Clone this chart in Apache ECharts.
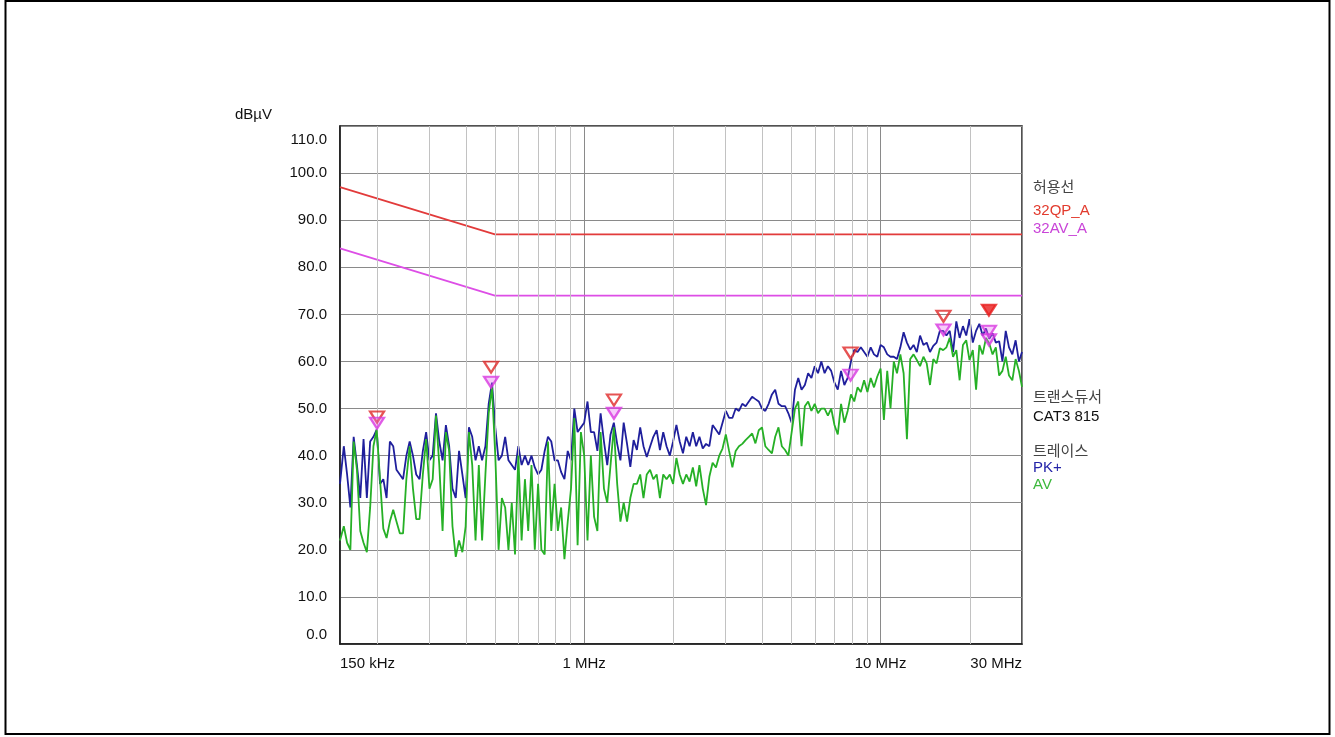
<!DOCTYPE html>
<html><head><meta charset="utf-8">
<script src="https://cdn.jsdelivr.net/npm/echarts@6/dist/echarts.min.js"></script>
<style>html,body{margin:0;padding:0;background:#fff}#c{width:1335px;height:737px}</style>
</head><body><div id="c"></div>
<script>
// Frequencies in MHz
const freqs = [0.15, 0.1545, 0.1585, 0.1626, 0.1668, 0.1711, 0.1756, 0.1801, 0.1848, 0.1896, 0.1945, 0.1995, 0.2047, 0.2100, 0.2154, 0.2210, 0.2268, 0.2326, 0.2387, 0.2448, 0.2512, 0.2577, 0.2644, 0.2712, 0.2783, 0.2855, 0.2929, 0.3005, 0.3082, 0.3162, 0.3244, 0.3328, 0.3415, 0.3503, 0.3594, 0.3687, 0.3782, 0.3881, 0.3981, 0.4084, 0.4190, 0.4299, 0.4410, 0.4524, 0.4642, 0.4762, 0.4885, 0.5012, 0.5142, 0.5275, 0.5412, 0.5552, 0.5696, 0.5843, 0.5995, 0.6150, 0.6310, 0.6473, 0.6641, 0.6813, 0.6989, 0.7171, 0.7356, 0.7547, 0.7743, 0.7943, 0.8149, 0.8360, 0.8577, 0.8799, 0.9027, 0.9261, 0.9501, 0.9747,
1.000, 1.026, 1.053, 1.080, 1.108, 1.136, 1.166, 1.196, 1.227, 1.259, 1.292, 1.325, 1.359, 1.395, 1.431, 1.468, 1.506, 1.545, 1.585, 1.626, 1.668, 1.711, 1.756, 1.801, 1.848, 1.896, 1.945, 1.995, 2.047, 2.100, 2.154, 2.210, 2.268, 2.326, 2.387, 2.448, 2.512, 2.577, 2.644, 2.712, 2.783, 2.855, 2.929, 3.005, 3.082, 3.162, 3.244, 3.328, 3.415, 3.503, 3.594, 3.687, 3.782, 3.881, 3.981, 4.084, 4.190, 4.299, 4.410, 4.524, 4.642, 4.762, 4.885, 5.012, 5.142, 5.275, 5.412, 5.552, 5.696, 5.843, 5.995, 6.150, 6.310, 6.473, 6.641, 6.813, 6.989, 7.171, 7.356, 7.547, 7.743, 7.943, 8.149, 8.360, 8.577, 8.799, 9.027, 9.261, 9.501, 9.747,
10.00, 10.26, 10.53, 10.80, 11.08, 11.36, 11.66, 11.96, 12.27, 12.59, 12.92, 13.25, 13.59, 13.95, 14.31, 14.68, 15.06, 15.45, 15.85, 16.26, 16.68, 17.11, 17.56, 18.01, 18.48, 18.96, 19.45, 19.95, 20.47, 21.00, 21.54, 22.10, 22.68, 23.26, 23.87, 24.48, 25.12, 25.77, 26.44, 27.12, 27.83, 28.55, 29.29, 30.00];

// PK+ trace (dBuV)
const pkValues = [34,
42, 36, 29, 44, 38, 31, 43.5, 31, 43, 44,
45.5, 34, 35, 31, 43, 42, 37, 36, 35, 40,
43, 40, 36, 35, 41, 45, 39, 40, 49, 43,
39, 46.5, 42, 33, 31, 41, 36, 31, 46, 44,
39, 42, 39, 42, 51, 55.5, 46, 39, 40, 44,
39, 38, 37, 42, 38, 40, 38, 40, 37.5, 36,
37, 41, 44, 43, 39, 39, 36.5, 35, 41, 39,
50, 45, 46,
47, 51.5, 45, 45, 41, 49, 43, 38, 44.5, 47,
42.5, 39, 47, 42.5, 37.6, 43.3, 41.2, 46, 42, 39.7,
41.9, 44, 45.4, 41.2, 45, 42, 40, 43, 46.5, 43,
40.5, 44, 42, 45, 42, 44, 41.5, 42.5, 42, 46.5,
45.5, 44.5, 47, 49.5, 48, 48, 50, 49.5, 51, 50.5,
51.5, 52.5, 52, 51.5, 50, 49.5, 51, 53, 54, 51,
50.5, 50.5, 49, 47, 54, 56.5, 54, 55, 57.5, 56.5,
59, 57.5, 60, 57.5, 59, 58, 55.5, 54, 58, 55,
56.5, 60, 62.5, 62, 63, 62, 61, 63, 61.5, 61,
63.5, 63, 61.5, 61, 61, 60.5, 63, 66.2, 64, 62.5,
63.5, 62, 65.5, 63.5, 64, 62, 63.3, 64, 66.5, 66.5,
65.5, 66.5, 62, 68.5, 65, 67.5, 65.5, 69, 64, 66.5,
68, 65.5, 67, 64.8, 66, 64, 64.3, 60, 66.5, 63,
61.5, 64.5, 60, 62];

// AV trace (dBuV)
const avValues = [22,
25, 21.5, 20, 43, 37, 24, 21.5, 19.5, 29, 42,
45.5, 35, 24.5, 22.5, 26, 28.5, 26, 23.5, 23.5, 35,
42, 33, 26.5, 26.5, 36, 43.5, 33, 35, 48.5, 38,
24, 45, 41, 25, 18.5, 22, 19.5, 25, 45, 38,
22, 38, 22, 36, 49, 54.5, 40, 20, 31, 29,
20, 30, 19, 40, 22, 35, 24, 38, 20, 34,
20, 19, 43, 24, 34, 24, 29, 18, 26, 33,
48, 21, 45,
40, 22, 40, 27, 24, 45, 33, 30, 38, 46,
34, 26, 30, 26, 31, 34, 34, 36, 31, 36,
37, 35, 36, 31, 36, 35, 36, 34, 39.5, 36,
34, 36, 34.5, 37.5, 33.5, 38, 33, 29.5, 35.5, 38.5,
37.5, 40, 41.5, 44.5, 41, 37.5, 41, 42, 42.5, 43.3,
44, 44.7, 42.6, 45.4, 46, 42, 41.2, 40.5, 44, 46,
42, 41.2, 40, 45, 50, 51.5, 42, 50.5, 51.5, 49.5,
51, 49, 50, 50, 48.5, 50, 46.5, 44.5, 51, 47,
49.5, 53, 51.5, 54.5, 53.5, 56, 53.5, 56.5, 54.5, 56.8,
58.5, 47.6, 58, 50, 60, 57.5, 61.5, 57.5, 43.5, 60.5,
61.5, 60.3, 59, 61, 59.6, 55, 60.5, 59.6, 62.8, 62.4,
63, 65, 61, 62.4, 56, 63.5, 64.5, 60.3, 62.4, 54,
63.5, 61.5, 65, 63.8, 61.5, 63, 57, 58, 61, 57,
56, 60.5, 58, 54.6];

// Limit lines
const limitFreqs = [0.15, 0.5, 30];
const qpLimitValues = [97, 87, 87];
const avLimitValues = [84, 74, 74];

// Final measurement markers
const qpMarkFreqs = [0.2, 0.485, 1.26, 7.92, 16.3, 23.2];
const qpMarkValues = [48.2, 58.8, 51.8, 61.8, 69.6, 70.9];
const avMarkFreqs = [0.2, 0.485, 1.26, 7.92, 16.3, 23.2, 23.2];
const avMarkValues = [46.9, 55.6, 49.0, 57.1, 66.7, 66.4, 64.6];

// Minor vertical grid frequencies
const minorGridFreqs = [0.2, 0.3, 0.4, 0.5, 0.6, 0.7, 0.8, 0.9, 2, 3, 4, 5, 6, 7, 8, 9, 20];

const zip = (a, b) => a.map((v, i) => [v, b[i]]);
const LAT = '"Liberation Sans", Arial, sans-serif';
const KR = '"Noto Sans CJK KR", sans-serif';

const chart = echarts.init(document.getElementById('c'));
const txt = (s, x, y, color, font) => ({type: 'text', x: x, y: y, silent: true,
  style: {text: s, fill: color, font: font, align: 'left', verticalAlign: 'middle'}});

chart.setOption({
  animation: false,
  backgroundColor: '#ffffff',
  grid: {left: 340, right: 313, top: 126, bottom: 93, show: true, borderColor: '#1a1a1a', borderWidth: 1.5, containLabel: false},
  xAxis: {
    type: 'log', logBase: 10, min: 0.15, max: 30,
    axisLine: {show: true, lineStyle: {color: '#1a1a1a', width: 1.5}},
    axisTick: {show: false},
    splitLine: {show: true, lineStyle: {color: '#8a8a8a', width: 1}},
    axisLabel: {
      showMinLabel: true, showMaxLabel: true,
      alignMinLabel: 'left', alignMaxLabel: 'right',
      fontFamily: LAT, fontSize: 15, color: '#111', margin: 12,
      formatter: v => v < 0.999 ? Math.round(v * 1000) + ' kHz' : Math.round(v) + ' MHz'
    }
  },
  yAxis: {
    type: 'value', min: 0, max: 110, interval: 10,
    name: 'dBµV', nameLocation: 'end', nameGap: 4,
    nameTextStyle: {fontFamily: LAT, fontSize: 15, color: '#111', align: 'right', padding: [0, 68, 0, 0]},
    axisLine: {show: true, lineStyle: {color: '#1a1a1a', width: 1.5}},
    axisTick: {show: false},
    splitLine: {show: true, lineStyle: {color: '#8a8a8a', width: 1}},
    axisLabel: {
      fontFamily: LAT, fontSize: 15, color: '#111', margin: 13,
      formatter: v => v === 110 ? '{t|110.0}' : (v === 0 ? '{b|0.0}' : v.toFixed(1)),
      rich: {
        t: {fontFamily: LAT, fontSize: 15, color: '#111', padding: [28, 0, 0, 0]},
        b: {fontFamily: LAT, fontSize: 15, color: '#111', padding: [0, 0, 19, 0]}
      }
    }
  },
  series: [
    {type: 'line', data: [], z: 1, silent: true,
     markLine: {silent: true, symbol: ['none', 'none'], animation: false, label: {show: false},
       lineStyle: {color: '#c2c2c2', width: 1, type: 'solid'},
       emphasis: {disabled: true},
       data: minorGridFreqs.map(f => ({xAxis: f}))}},
    {type: 'line', data: zip(limitFreqs, qpLimitValues), symbol: 'none', z: 3, silent: true,
     lineStyle: {color: '#e23b3b', width: 1.8}},
    {type: 'line', data: zip(limitFreqs, avLimitValues), symbol: 'none', z: 3, silent: true,
     lineStyle: {color: '#dd4ee6', width: 1.8}},
    {type: 'line', data: zip(freqs, pkValues), symbol: 'none', z: 4, silent: true,
     lineStyle: {color: '#1f1f9c', width: 1.8}},
    {type: 'line', data: zip(freqs, avValues), symbol: 'none', z: 5, silent: true,
     lineStyle: {color: '#26b026', width: 1.8}},
    {type: 'scatter', z: 6, silent: true, symbol: 'triangle', symbolRotate: 180, symbolSize: [14, 11],
     itemStyle: {color: 'rgba(255,255,255,0)', borderColor: '#e02828', borderWidth: 2.2},
     data: zip(qpMarkFreqs, qpMarkValues).map((p, i) => i === qpMarkFreqs.length - 1 ?
       {value: p, itemStyle: {color: '#e81c1c', borderColor: '#e81c1c'}} : {value: p})},
    {type: 'scatter', z: 7, silent: true, symbol: 'triangle', symbolRotate: 180, symbolSize: [14, 11],
     itemStyle: {color: 'rgba(230,110,240,0.45)', borderColor: '#d838e0', borderWidth: 2.2},
     data: zip(avMarkFreqs, avMarkValues)}
  ],
  graphic: [
    {type: 'rect', silent: true, shape: {x: 5.5, y: 1, width: 1324, height: 733},
     style: {fill: 'none', stroke: '#000', lineWidth: 2}},
    txt('허용선', 1033, 186, '#444', '15px ' + KR),
    txt('32QP_A', 1033, 211, '#e23b2e', '15px ' + LAT),
    txt('32AV_A', 1033, 229, '#c944d8', '15px ' + LAT),
    txt('트랜스듀서', 1033, 396, '#444', '15px ' + KR),
    txt('CAT3 815', 1033, 417, '#111', '15px ' + LAT),
    txt('트레이스', 1033, 450, '#444', '15px ' + KR),
    txt('PK+', 1033, 468, '#2323a8', '15px ' + LAT),
    txt('AV', 1033, 485, '#3cb83c', '15px ' + LAT)
  ]
});
</script>
</body></html>
